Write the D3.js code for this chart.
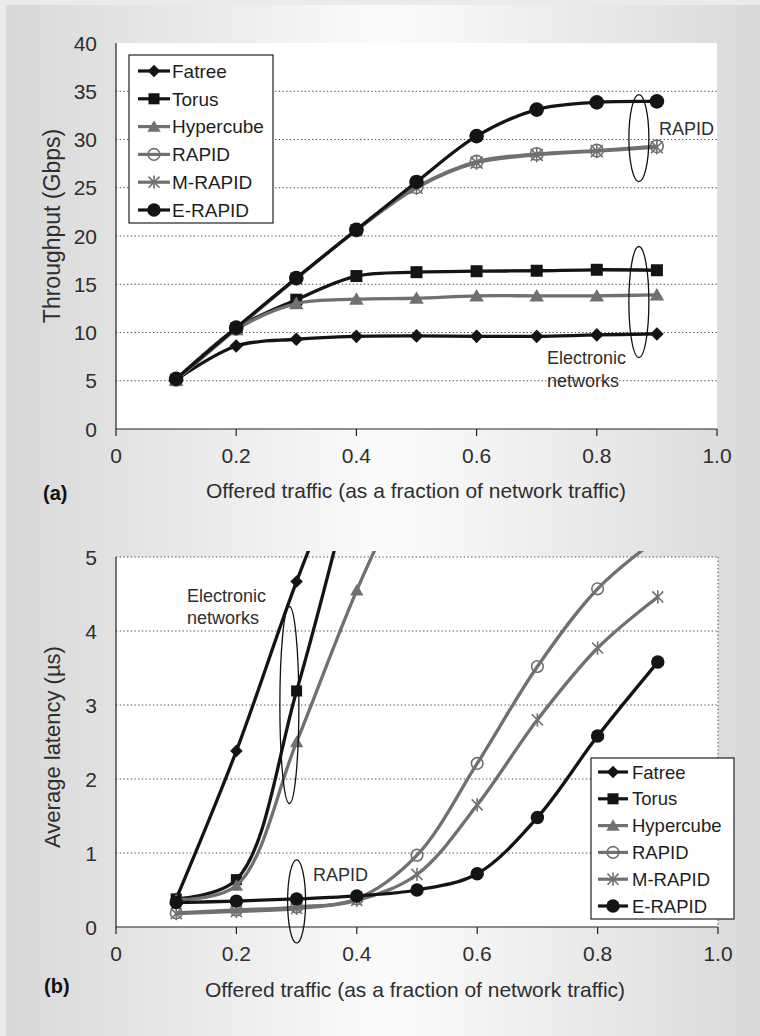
<!DOCTYPE html>
<html><head><meta charset="utf-8">
<script src="https://cdn.jsdelivr.net/npm/d3@7"></script>
<style>
html,body{margin:0;padding:0;background:#ebebeb;}
svg{display:block;font-family:"Liberation Sans",Arial,Helvetica,sans-serif;}
</style></head>
<body>
<svg id="chart" width="760" height="1036"></svg>
<script>
// ---------- data ----------
const seriesNames = ["Fatree", "Torus", "Hypercube", "RAPID", "M-RAPID", "E-RAPID"];
const loadX = [0.1, 0.2, 0.3, 0.4, 0.5, 0.6, 0.7, 0.8, 0.9];
const xTickLabels = ["0", "0.2", "0.4", "0.6", "0.8", "1.0"];
const xTickValues = [0, 0.2, 0.4, 0.6, 0.8, 1.0];
const thrTicks = [0, 5, 10, 15, 20, 25, 30, 35, 40];
const latTicks = [0, 1, 2, 3, 4, 5];

// (a) throughput, Gbps
const thrFatree    = [5.1, 8.6, 9.3, 9.6, 9.65, 9.6, 9.6, 9.75, 9.85];
const thrTorus     = [5.1, 10.4, 13.4, 15.85, 16.25, 16.35, 16.4, 16.5, 16.45];
const thrHypercube = [5.1, 10.3, 13.0, 13.45, 13.55, 13.8, 13.8, 13.8, 13.9];
const thrRapid     = [5.1, 10.4, 15.6, 20.6, 25.05, 27.7, 28.5, 28.85, 29.3];
const thrMRapid    = [5.1, 10.4, 15.6, 20.6, 25.0, 27.6, 28.4, 28.8, 29.2];
const thrERapid    = [5.2, 10.5, 15.65, 20.65, 25.6, 30.35, 33.1, 33.85, 33.95];

// (b) latency, µs (last values of electronic series run off the top of the chart)
const latFatree    = [0.38, 2.38, 4.67, 6.7];
const latTorus     = [0.38, 0.64, 3.19, 6.3];
const latHypercube = [0.37, 0.56, 2.5, 4.55, 6.3];
const latRapid     = [0.19, 0.23, 0.27, 0.38, 0.97, 2.21, 3.52, 4.57, 5.25];
const latMRapid    = [0.18, 0.21, 0.25, 0.36, 0.71, 1.65, 2.8, 3.77, 4.46];
const latERapid    = [0.33, 0.35, 0.38, 0.42, 0.5, 0.72, 1.48, 2.58, 3.58];

// ---------- style ----------
const BLACK = "#141414", GRAY = "#707070";
const styles = {
  "Fatree":    {color: BLACK, marker: "diamond"},
  "Torus":     {color: BLACK, marker: "square"},
  "Hypercube": {color: GRAY,  marker: "triangle"},
  "RAPID":     {color: GRAY,  marker: "ocircle"},
  "M-RAPID":   {color: GRAY,  marker: "asterisk"},
  "E-RAPID":   {color: BLACK, marker: "circle"}
};
const TXT = "#2e2e2e";

const svg = d3.select("#chart");
const W = 760, H = 1036;

// background
const defs = svg.append("defs");
const grad = defs.append("linearGradient").attr("id", "bg").attr("x1", "0").attr("x2", "1").attr("y1", "0").attr("y2", "0");
[[0, "#d8d8d8"], [0.5, "#fbfbfb"], [0.58, "#f7f7f7"], [1, "#d9d9d9"]].forEach(([o, c]) =>
  grad.append("stop").attr("offset", o).attr("stop-color", c));
svg.append("rect").attr("width", W).attr("height", H).attr("fill", "#ebebeb");
svg.append("rect").attr("x", 6).attr("y", 5).attr("width", W - 6).attr("height", H - 5).attr("fill", "url(#bg)");

// marker paths
function markerPath(type, s) {
  switch (type) {
    case "diamond": return `M0,${-s}L${s},0L0,${s}L${-s},0Z`;
    case "square": return `M${-s},${-s}H${s}V${s}H${-s}Z`;
    case "triangle": return `M0,${-s * 1.05}L${s * 1.1},${s * 0.85}L${-s * 1.1},${s * 0.85}Z`;
    case "circle":
    case "ocircle": return d3.arc()({innerRadius: 0, outerRadius: s, startAngle: 0, endAngle: 2 * Math.PI});
    case "asterisk": return `M${-s},${-s}L${s},${s}M${-s},${s}L${s},${-s}M0,${-s * 1.2}L0,${s * 1.2}`;
  }
}
function appendMarker(sel, type, color, s) {
  const p = sel.append("path").attr("d", markerPath(type, s));
  if (type === "ocircle" || type === "asterisk") p.attr("fill", "none").attr("stroke", color).attr("stroke-width", 1.6);
  else p.attr("fill", color);
  return p;
}
const markerSize = {diamond: 6.8, square: 6, triangle: 6.6, circle: 7.3, ocircle: 6.3, asterisk: 6};

function drawPanel(cfg) {
  const {x, y, series, gridVals, yTicks, yFmt, frameRight, clipTop} = cfg;
  const g = svg.append("g");
  const [x0, x1] = x.range();
  const [yb, yt] = y.range();
  g.append("rect").attr("x", x0).attr("y", yt).attr("width", x1 - x0).attr("height", yb - yt).attr("fill", "#fff");
  g.selectAll("line.grid").data(gridVals).join("line").attr("class", "grid")
    .attr("x1", x0).attr("x2", x1).attr("y1", d => y(d)).attr("y2", d => y(d))
    .attr("stroke", "#444").attr("stroke-width", 1).attr("stroke-dasharray", "1.3,2.4");
  if (frameRight) {
    g.append("line").attr("x1", x1).attr("x2", x1).attr("y1", yt).attr("y2", yb)
      .attr("stroke", "#444").attr("stroke-width", 1).attr("stroke-dasharray", "1.3,2.4");
  }
  g.append("line").attr("x1", x0).attr("x2", x0).attr("y1", yt).attr("y2", yb).attr("stroke", "#222").attr("stroke-width", 1.2);
  g.append("line").attr("x1", x0).attr("x2", x1).attr("y1", yb).attr("y2", yb).attr("stroke", "#222").attr("stroke-width", 1.2);
  g.selectAll("line.xt").data(xTickValues).join("line").attr("class", "xt")
    .attr("x1", d => x(d)).attr("x2", d => x(d)).attr("y1", yb).attr("y2", yb + 7)
    .attr("stroke", "#222").attr("stroke-width", 1.2);
  g.selectAll("text.xl").data(xTickValues).join("text").attr("class", "xl")
    .attr("x", d => x(d)).attr("y", yb + 34).attr("text-anchor", "middle")
    .attr("font-size", 21).attr("fill", TXT).text((d, i) => xTickLabels[i]);
  g.selectAll("text.yl").data(yTicks).join("text").attr("class", "yl")
    .attr("x", 97).attr("y", d => y(d)).attr("dy", "0.36em").attr("text-anchor", "end")
    .attr("font-size", 21).attr("fill", TXT).text(yFmt);

  const cid = "clip" + Math.round(yt);
  defs.append("clipPath").attr("id", cid).append("rect")
    .attr("x", x0 - 20).attr("y", clipTop).attr("width", x1 - x0 + 40).attr("height", yb - clipTop + 20);
  const plot = g.append("g").attr("clip-path", `url(#${cid})`);
  const line = d3.line().x(d => x(d[0])).y(d => y(d[1])).curve(d3.curveCatmullRom.alpha(0.5));
  series.forEach(s => {
    const st = styles[s.name];
    const pts = s.values.map((v, i) => [loadX[i], v]);
    const sg = plot.append("g");
    sg.append("path").attr("d", line(pts)).attr("fill", "none").attr("stroke", st.color)
      .attr("stroke-width", 3.3).attr("stroke-linejoin", "round");
    pts.forEach(p => {
      const m = sg.append("g").attr("transform", `translate(${x(p[0])},${y(p[1])})`);
      appendMarker(m, st.marker, st.color, markerSize[st.marker] * (cfg.mScale || 1));
    });
  });
  return g;
}

function drawLegend(lx, ly, w, h, rowY0, rowStep, lineX0, lineX1, textX, fontSize) {
  const g = svg.append("g");
  g.append("rect").attr("x", lx).attr("y", ly).attr("width", w).attr("height", h)
    .attr("fill", "#fff").attr("stroke", "#222").attr("stroke-width", 1.2);
  seriesNames.forEach((n, i) => {
    const st = styles[n];
    const cy = rowY0 + i * rowStep;
    g.append("line").attr("x1", lineX0).attr("x2", lineX1).attr("y1", cy).attr("y2", cy)
      .attr("stroke", st.color).attr("stroke-width", 3.2);
    const m = g.append("g").attr("transform", `translate(${(lineX0 + lineX1) / 2},${cy})`);
    appendMarker(m, st.marker, st.color, markerSize[st.marker] * 0.92);
    g.append("text").attr("x", textX).attr("y", cy).attr("dy", "0.36em")
      .attr("font-size", fontSize).attr("fill", "#1e1e1e").text(n);
  });
}

function ellipse(cx, cy, rx, ry) {
  svg.append("ellipse").attr("cx", cx).attr("cy", cy).attr("rx", rx).attr("ry", ry)
    .attr("fill", "none").attr("stroke", "#111").attr("stroke-width", 1.3);
}
function label(txt, x, y, size, weight) {
  svg.append("text").attr("x", x).attr("y", y).attr("font-size", size)
    .attr("font-weight", weight || "normal").attr("fill", weight ? "#111" : TXT).text(txt);
}

// ---------- (a) throughput ----------
const xA = d3.scaleLinear().domain([0, 1]).range([116, 717]);
const yA = d3.scaleLinear().domain([0, 40]).range([429, 43]);
drawPanel({
  x: xA, y: yA, gridVals: [5, 10, 15, 20, 25, 30, 35], yTicks: thrTicks, yFmt: d => d,
  frameRight: false, clipTop: 0,
  series: [
    {name: "Fatree", values: thrFatree}, {name: "Torus", values: thrTorus},
    {name: "Hypercube", values: thrHypercube}, {name: "RAPID", values: thrRapid},
    {name: "M-RAPID", values: thrMRapid}, {name: "E-RAPID", values: thrERapid}
  ]
});
drawLegend(129, 55, 144, 168, 71, 27.8, 138, 170, 172, 19);
ellipse(xA(0.87), yA(30.15), 10, 43.5);
label("RAPID", 659, 135, 18);
ellipse(xA(0.87), yA(13.16), 10, 55.5);
label("Electronic", 547, 364, 18);
label("networks", 547, 387, 18);
svg.append("text").attr("x", 416).attr("y", 498).attr("text-anchor", "middle").attr("font-size", 21)
  .attr("fill", TXT).text("Offered traffic (as a fraction of network traffic)");
svg.append("text").attr("transform", "translate(60,226) rotate(-90)").attr("text-anchor", "middle")
  .attr("font-size", 23).attr("fill", TXT).text("Throughput (Gbps)");
label("(a)", 43, 500, 20, "bold");

// ---------- (b) latency ----------
const xB = d3.scaleLinear().domain([0, 1]).range([116, 718]);
const yB = d3.scaleLinear().domain([0, 5]).range([927, 557]);
drawPanel({
  x: xB, y: yB, gridVals: [1, 2, 3, 4, 5], yTicks: latTicks, yFmt: d => d,
  frameRight: true, clipTop: 551, mScale: 0.92,
  series: [
    {name: "Fatree", values: latFatree}, {name: "Torus", values: latTorus},
    {name: "Hypercube", values: latHypercube}, {name: "RAPID", values: latRapid},
    {name: "M-RAPID", values: latMRapid}, {name: "E-RAPID", values: latERapid}
  ]
});
drawLegend(591, 758, 143, 161, 772, 26.8, 598, 628, 632, 18.5);
ellipse(xB(0.288), yB(3.0), 9.5, 98.5);
label("Electronic", 187, 602, 18);
label("networks", 187, 624, 18);
ellipse(xB(0.3), yB(0.345), 9, 41.5);
label("RAPID", 313, 881, 18);
svg.append("text").attr("x", 415).attr("y", 997).attr("text-anchor", "middle").attr("font-size", 21)
  .attr("fill", TXT).text("Offered traffic (as a fraction of network traffic)");
svg.append("text").attr("transform", "translate(60,747) rotate(-90)").attr("text-anchor", "middle")
  .attr("font-size", 22).attr("fill", TXT).text("Average latency (µs)");
label("(b)", 44, 993, 20, "bold");
</script>
</body></html>
